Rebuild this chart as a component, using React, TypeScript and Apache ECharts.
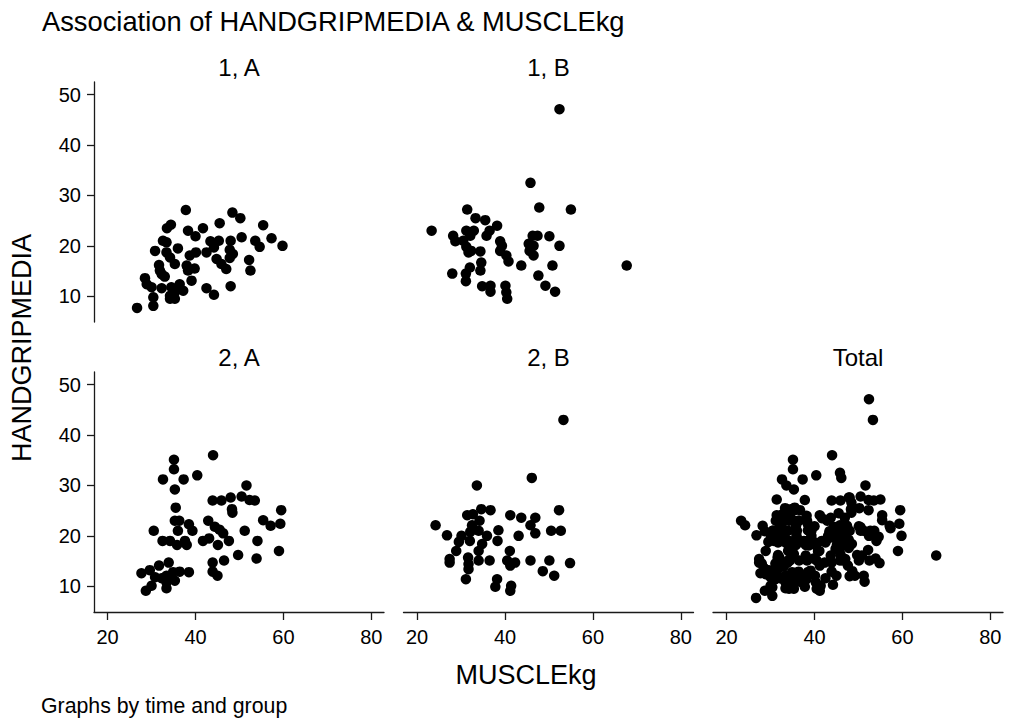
import React, { useEffect, useRef } from "react";
import * as echarts from "echarts";

// MUSCLEkg (x), HANDGRIPMEDIA (y) pairs per panel (time, group)
const panel1A: [number, number][] = [
  [37.8, 27.1], [48.4, 26.6], [50.2, 25.5], [34.4, 24.2], [33.5, 23.5], [38.3, 23.0],
  [41.7, 23.5], [45.5, 24.5], [55.4, 24.1], [57.3, 21.5], [59.8, 20.0], [53.6, 21.0],
  [54.6, 19.8], [50.5, 21.7], [48.0, 21.0], [45.3, 21.0], [43.4, 20.9], [32.6, 21.0],
  [33.4, 20.7], [36.0, 19.5], [30.8, 19.0], [33.4, 18.7], [34.2, 17.7], [35.3, 16.4],
  [38.7, 18.1], [40.1, 18.7], [42.5, 18.7], [44.2, 19.7], [47.8, 19.2], [48.5, 18.4],
  [47.8, 17.6], [44.8, 17.4], [45.9, 16.4], [47.0, 15.4], [52.2, 17.2], [52.5, 15.1],
  [38.0, 16.1], [38.3, 15.1], [39.8, 15.5], [31.7, 16.2], [31.9, 15.1], [32.3, 14.4],
  [33.0, 13.9], [39.1, 13.1], [28.5, 13.6], [28.9, 12.4], [30.0, 11.8], [32.3, 11.6],
  [34.5, 11.8], [36.4, 12.4], [37.2, 11.1], [35.3, 10.8], [34.2, 10.1], [35.3, 9.5],
  [34.2, 9.5], [30.4, 9.8], [30.4, 8.1], [26.7, 7.7], [42.5, 11.6], [44.2, 10.3],
  [48.0, 12.0], [40.0, 21.9],
];

const panel1B: [number, number][] = [
  [52.4, 47.1], [45.8, 32.5], [47.8, 27.6], [55.0, 27.2], [67.7, 16.1], [23.3, 23.0],
  [31.4, 27.2], [33.3, 25.5], [35.5, 25.1], [38.2, 24.0], [36.5, 23.0], [35.8, 22.0],
  [31.2, 23.0], [32.9, 23.0], [32.1, 22.0], [28.2, 22.0], [28.7, 20.9], [30.5, 21.0],
  [31.2, 19.8], [32.3, 19.0], [34.4, 18.9], [31.7, 18.7], [38.9, 20.9], [39.3, 20.0],
  [38.9, 19.0], [40.3, 18.1], [40.8, 16.9], [46.3, 22.0], [47.4, 22.0], [50.1, 21.9],
  [52.4, 20.0], [45.4, 20.4], [46.5, 20.0], [45.6, 19.0], [46.5, 18.1], [43.7, 16.1],
  [50.8, 16.1], [34.6, 16.7], [32.0, 15.7], [34.4, 15.1], [31.1, 14.5], [28.0, 14.5],
  [31.1, 13.0], [47.6, 14.1], [49.2, 12.1], [51.4, 10.9], [34.8, 12.0], [36.7, 12.1],
  [36.7, 10.9], [40.1, 12.1], [40.3, 10.8], [40.5, 9.5],
];

const panel2A: [number, number][] = [
  [44.0, 36.0], [35.1, 35.1], [35.1, 33.2], [32.6, 31.2], [37.3, 31.2], [40.4, 32.0],
  [35.3, 29.2], [51.6, 30.0], [43.9, 27.0], [45.9, 27.0], [48.0, 27.6], [50.5, 27.8],
  [52.3, 27.1], [53.5, 27.0], [48.3, 25.3], [48.4, 24.6], [59.5, 25.1], [35.5, 25.6],
  [35.3, 23.0], [36.3, 23.0], [38.5, 22.3], [39.3, 21.0], [36.0, 21.0], [30.5, 21.0],
  [42.9, 23.0], [44.4, 21.8], [45.5, 21.2], [46.3, 20.5], [51.2, 21.0], [55.4, 23.1],
  [57.1, 22.0], [59.3, 22.4], [32.5, 19.0], [34.2, 19.0], [35.8, 18.2], [38.0, 18.2],
  [37.6, 19.0], [41.7, 19.0], [43.1, 19.5], [45.1, 18.2], [47.6, 19.0], [54.1, 19.0],
  [59.0, 17.0], [49.7, 16.2], [53.9, 15.5], [46.5, 15.1], [43.9, 14.7], [43.9, 12.9],
  [45.0, 12.1], [33.9, 14.7], [31.7, 14.1], [29.6, 13.2], [27.7, 12.6], [30.8, 11.8],
  [33.4, 12.1], [34.9, 12.8], [36.4, 12.9], [38.5, 12.8], [35.3, 11.1], [33.4, 10.8],
  [33.4, 9.6], [30.0, 10.1], [28.7, 9.1], [34.2, 11.6], [32.3, 11.6],
];

const panel2B: [number, number][] = [
  [53.3, 43.0], [46.1, 31.5], [33.6, 30.0], [52.3, 25.1], [24.2, 22.1], [26.8, 20.1],
  [31.4, 24.1], [32.7, 24.3], [34.6, 25.3], [36.7, 25.1], [34.2, 23.0], [32.5, 22.1],
  [32.1, 20.8], [30.1, 20.0], [29.5, 18.8], [32.0, 19.0], [34.0, 21.0], [35.9, 20.0],
  [34.8, 18.4], [34.0, 17.0], [28.9, 17.0], [27.4, 15.4], [27.4, 14.7], [31.6, 15.7],
  [31.7, 14.4], [34.0, 15.1], [36.5, 15.1], [31.7, 13.4], [31.1, 11.4], [38.2, 11.4],
  [37.8, 9.9], [41.2, 9.1], [41.4, 10.1], [38.5, 21.1], [38.3, 19.0], [41.2, 24.1],
  [43.7, 23.6], [46.9, 23.6], [45.8, 22.1], [46.9, 20.5], [43.1, 20.0], [41.1, 17.0],
  [40.5, 15.1], [42.3, 14.7], [41.2, 14.1], [45.8, 15.1], [50.1, 15.1], [54.8, 14.6],
  [48.6, 13.0], [51.2, 12.1], [50.5, 21.0], [52.7, 21.0],
];

const panelLabels = ["1, A", "1, B", "2, A", "2, B", "Total"];
const xTicks = [20, 40, 60, 80];
const yTicks = [10, 20, 30, 40, 50];

const TITLE = "Association of HANDGRIPMEDIA & MUSCLEkg";
const X_TITLE = "MUSCLEkg";
const Y_TITLE = "HANDGRIPMEDIA";
const NOTE = "Graphs by time and group";

export default function App() {
  const ref = useRef<HTMLDivElement>(null);

  useEffect(() => {
    if (!ref.current) return;
    const chart = echarts.init(ref.current, null, { renderer: "svg" });
    const font = "'Liberation Sans', Arial, Helvetica, sans-serif";
    const total = [...panel1A, ...panel1B, ...panel2A, ...panel2B];
    const panels = [panel1A, panel1B, panel2A, panel2B, total];

    const W = 290;
    const H = 240;
    const lefts = [94, 403.5, 94, 403.5, 713];
    const tops = [82, 82, 372, 372, 372];
    const showX = [false, false, true, true, true];
    const showY = [true, false, true, false, false];

    const axisColor = "#1a1a1a";

    const grid = panels.map((_, i) => ({
      left: lefts[i],
      top: tops[i],
      width: W,
      height: H,
      containLabel: false,
    }));

    const xAxis = panels.map((_, i) => ({
      type: "value",
      gridIndex: i,
      min: 16.9,
      max: 82.9,
      show: showX[i],
      splitLine: { show: false },
      axisLine: { show: true, lineStyle: { color: axisColor, width: 1.3 } },
      axisTick: {
        show: true,
        length: 8,
        customValues: xTicks,
        lineStyle: { color: axisColor, width: 1.3 },
      },
      axisLabel: {
        show: true,
        customValues: xTicks,
        fontFamily: font,
        fontSize: 20,
        color: "#000",
        margin: 15,
      },
    }));

    const yAxis = panels.map((_, i) => ({
      type: "value",
      gridIndex: i,
      min: 4.9,
      max: 52.5,
      show: showY[i],
      splitLine: { show: false },
      axisLine: { show: true, lineStyle: { color: axisColor, width: 1.3 } },
      axisTick: {
        show: true,
        length: 7,
        customValues: yTicks,
        lineStyle: { color: axisColor, width: 1.3 },
      },
      axisLabel: {
        show: true,
        customValues: yTicks,
        fontFamily: font,
        fontSize: 20,
        color: "#000",
        margin: 13,
      },
    }));

    const series = panels.map((d, i) => ({
      type: "scatter",
      xAxisIndex: i,
      yAxisIndex: i,
      data: d,
      symbol: "circle",
      symbolSize: 10.5,
      itemStyle: { color: "#000", opacity: 1 },
      silent: true,
    }));

    const labelPos = panels.map((_, i) => ({
      x: lefts[i] + W / 2,
      y: tops[i] - 15,
    }));

    const graphic: any[] = [
      {
        type: "text",
        x: 42,
        y: 21,
        style: {
          text: TITLE,
          fontFamily: font,
          fontSize: 27.3,
          fill: "#000",
          align: "left",
          verticalAlign: "middle",
        },
      },
      ...panelLabels.map((t, i) => ({
        type: "text",
        x: labelPos[i].x,
        y: labelPos[i].y,
        style: {
          text: t,
          fontFamily: font,
          fontSize: 24,
          fill: "#000",
          align: "center",
          verticalAlign: "middle",
        },
      })),
      {
        type: "text",
        x: 526,
        y: 675,
        style: {
          text: X_TITLE,
          fontFamily: font,
          fontSize: 27,
          fill: "#000",
          align: "center",
          verticalAlign: "middle",
        },
      },
      {
        type: "text",
        x: 22,
        y: 348,
        rotation: Math.PI / 2,
        style: {
          text: Y_TITLE,
          fontFamily: font,
          fontSize: 27,
          fill: "#000",
          align: "center",
          verticalAlign: "middle",
        },
      },
      {
        type: "text",
        x: 41,
        y: 706,
        style: {
          text: NOTE,
          fontFamily: font,
          fontSize: 21.3,
          fill: "#000",
          align: "left",
          verticalAlign: "middle",
        },
      },
    ];

    chart.setOption({
      animation: false,
      backgroundColor: "#fff",
      grid,
      xAxis,
      yAxis,
      series,
      graphic,
    } as any);

    return () => chart.dispose();
  }, []);

  return (
    <div
      ref={ref}
      style={{ position: "absolute", left: 0, top: 0, width: 1009, height: 719 }}
    />
  );
}
